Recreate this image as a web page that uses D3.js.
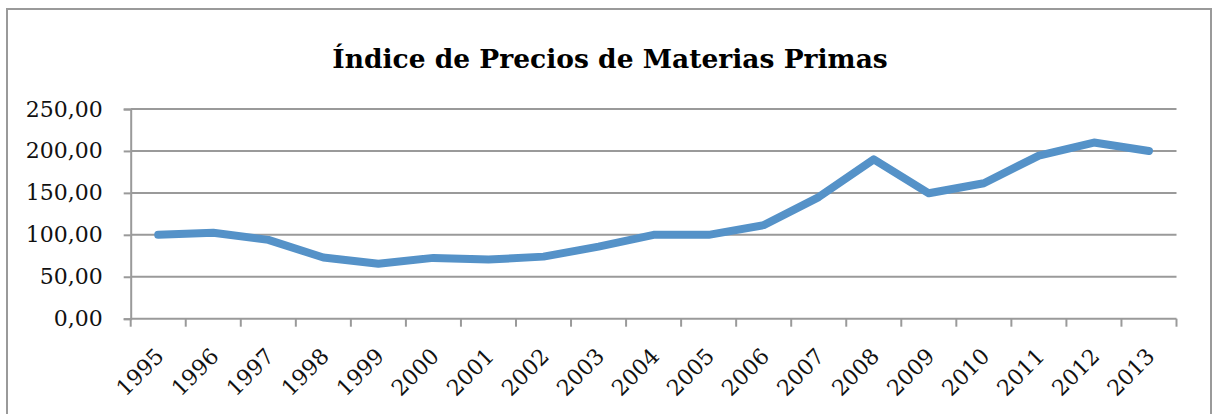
<!DOCTYPE html>
<html>
<head>
<meta charset="utf-8">
<script src="https://cdn.jsdelivr.net/npm/d3@7"></script>
<style>
  html, body { margin: 0; padding: 0; background: #fff; }
  svg { display: block; }
</style>
</head>
<body>
<svg id="chart" width="1213" height="414"></svg>
<script>
const title = "Índice de Precios de Materias Primas";
const years = ["1995","1996","1997","1998","1999","2000","2001","2002","2003","2004","2005","2006","2007","2008","2009","2010","2011","2012","2013"];
const values = [100, 102.5, 94, 73, 65.5, 72.5, 70.5, 74, 86, 100, 100, 111.5, 145, 190, 149.5, 161.5, 194.5, 210, 200];
const yTicks = [0, 50, 100, 150, 200, 250];

(function () {
const svg = d3.select("#chart");
const pLeft = 130.7, pRight = 1176.5, pTop = 109, pBottom = 318.7;
const font = "'DejaVu Serif', serif";
const gray = "#9a9a9a";

// outer border
svg.append("rect").attr("x", 7).attr("y", 9).attr("width", 1204).attr("height", 420)
  .attr("fill", "none").attr("stroke", gray).attr("stroke-width", 2);

svg.append("text").attr("x", 610).attr("y", 68).attr("text-anchor", "middle")
  .attr("font-family", font).attr("font-weight", "bold").attr("font-size", 26.5)
  .attr("fill", "#000").text(title);

const x = d3.scaleBand().domain(years).range([pLeft, pRight]);
const y = d3.scaleLinear().domain([0, 250]).range([pBottom, pTop]);
const fmt = v => d3.format(".2f")(v).replace(".", ",");

// gridlines
svg.append("g").selectAll("line").data(yTicks.filter(d => d > 0)).join("line")
  .attr("x1", pLeft).attr("x2", pRight).attr("y1", d => y(d)).attr("y2", d => y(d))
  .attr("stroke", gray).attr("stroke-width", 2);

// y axis
const yAxis = svg.append("g").attr("transform", `translate(${pLeft},0)`)
  .call(d3.axisLeft(y).tickValues(yTicks).tickFormat(fmt).tickSize(7).tickPadding(21));
yAxis.select(".domain").attr("stroke", gray).attr("stroke-width", 2);
yAxis.selectAll(".tick line").attr("stroke", gray).attr("stroke-width", 2);
yAxis.selectAll("text").attr("font-family", font).attr("font-size", 22).attr("fill", "#111");

// x axis
svg.append("line").attr("x1", pLeft).attr("x2", pRight).attr("y1", pBottom).attr("y2", pBottom)
  .attr("stroke", gray).attr("stroke-width", 2);
const bounds = years.map(d => x(d)).concat([pRight]);
svg.append("g").selectAll("line").data(bounds).join("line")
  .attr("x1", d => d).attr("x2", d => d).attr("y1", pBottom).attr("y2", pBottom + 8)
  .attr("stroke", gray).attr("stroke-width", 2);

svg.append("g").selectAll("text").data(years).join("text")
  .attr("transform", d => `translate(${x(d) + x.bandwidth() / 2 + 7},${pBottom + 39}) rotate(-45)`)
  .attr("text-anchor", "end")
  .attr("font-family", font).attr("font-size", 22).attr("fill", "#111")
  .text(d => d);

// line
const line = d3.line().x((d, i) => x(years[i]) + x.bandwidth() / 2).y(d => y(d));
svg.append("path").datum(values).attr("d", line)
  .attr("fill", "none").attr("stroke", "#5592c8").attr("stroke-width", 8)
  .attr("stroke-linejoin", "round").attr("stroke-linecap", "round");
})();
</script>
</body>
</html>
